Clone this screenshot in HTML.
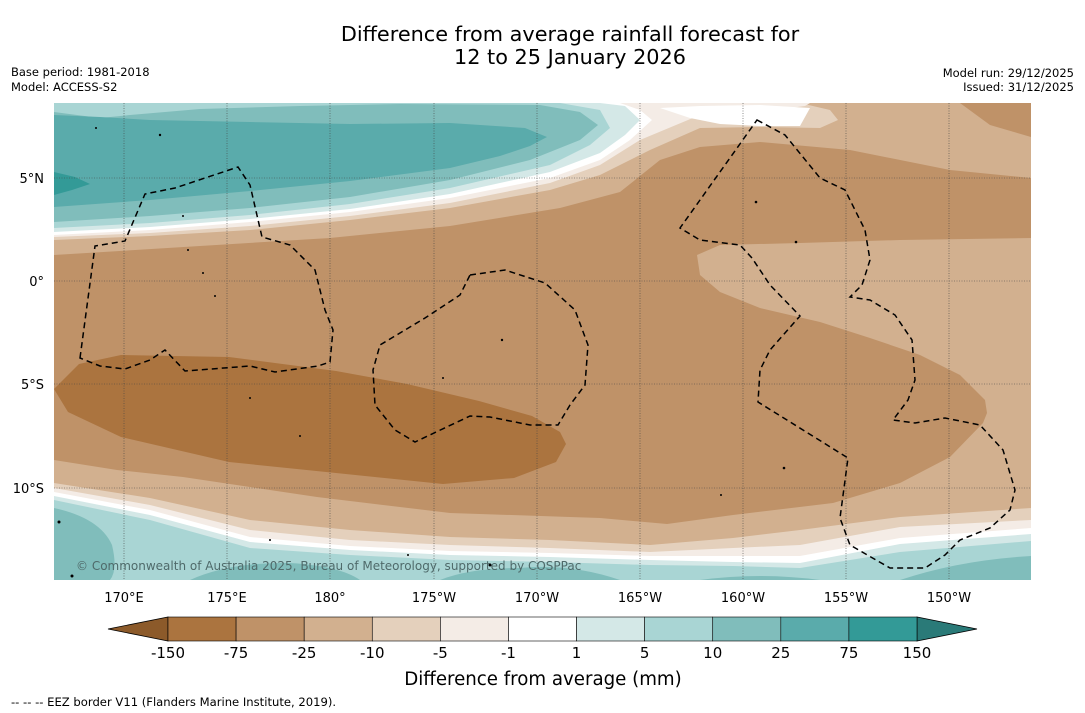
<!DOCTYPE html>
<html><head><meta charset="utf-8"><style>
body{margin:0;background:#fff;width:1085px;height:713px;overflow:hidden;font-family:"Liberation Sans","DejaVu Sans",sans-serif}
svg{display:block}
text{font-family:"DejaVu Sans","Liberation Sans",sans-serif}
</style></head><body>
<svg id="s" width="1085" height="713" viewBox="0 0 1085 713">
<text x="570" y="41" font-size="20.8" text-anchor="middle">Difference from average rainfall forecast for</text>
<text x="570" y="64" font-size="20.8" text-anchor="middle">12 to 25 January 2026</text>
<text x="11" y="76" font-size="11.5">Base period: 1981-2018</text>
<text x="11" y="91" font-size="11.5">Model: ACCESS-S2</text>
<text x="1074" y="77" font-size="11.5" text-anchor="end">Model run: 29/12/2025</text>
<text x="1074" y="91" font-size="11.5" text-anchor="end">Issued: 31/12/2025</text>
<defs><clipPath id="mc"><rect x="54" y="103" width="977" height="477"/></clipPath></defs>
<g clip-path="url(#mc)">
<rect x="54" y="103" width="977" height="477" fill="#d2b08f"/>
<polygon fill="#bf9268" points="54,255 200,246 330,238 450,226 560,208 620,192 660,160 700,147 760,142 850,150 950,170 1031,178 1031,238 900,240 800,243 720,245 697,255 700,275 720,292 760,308 820,322 870,338 920,355 960,375 985,400 987,413 983,423 950,457 900,483 833,503 733,515 667,524 600,518 570,517 450,513 317,497 183,477 117,470 54,460"/>
<polygon fill="#bf9268" points="960,103 1031,103 1031,137 990,125"/>
<polygon fill="#ab743f" points="54,389 79,364 121,355 229,357 336,371 407,384 479,401 532,416 560,432 566,444 556,462 514,478 443,484 336,473 229,462 121,437 68,412"/>
<polygon fill="#e4d0bc" points="54,483 150,498 250,520 350,530 450,537 550,540 650,545 733,538 800,530 900,517 1031,508 1031,580 54,580"/>
<polygon fill="#f4ece6" points="54,488 150,505 250,530 350,540 450,545 550,548 650,552 733,548 800,545 900,527 1031,520 1031,580 54,580"/>
<polygon fill="#ffffff" points="54,492 150,510 250,537 350,546 450,551 550,553 650,556 733,556 800,556 900,538 1031,528 1031,580 54,580"/>
<polygon fill="#d4e8e7" points="54,496 150,515 250,542 350,550 450,555 550,557 650,560 733,562 800,563 900,544 1031,534 1031,580 54,580"/>
<polygon fill="#a9d5d4" points="54,500 150,520 250,548 350,555 450,560 550,562 650,565 733,566 800,568 900,552 1031,541 1031,580 54,580"/>
<path fill="#80bdbb" d="M54,508 Q100,518 112,545 Q118,570 110,580 L54,580Z M190,580 Q230,562 290,563 Q340,566 360,580Z M440,580 Q470,568 520,568 Q570,563 620,580Z M700,580 Q760,572 820,580Z M900,580 Q960,560 1031,556 L1031,580Z"/>
<polygon fill="#e4d0bc" points="54,240 150,236 250,230 350,220 450,208 550,190 600,175 650,150 700,128 760,127 820,128 838,120 830,110 800,103 54,103"/>
<polygon fill="#f4ece6" points="54,237 150,233 250,226 350,216 450,203 550,183 600,165 640,140 700,115 760,112 805,106 810,103 54,103"/>
<polygon fill="#ffffff" points="660,108 700,106 760,105 810,108 800,126 760,126 720,124 690,118"/>
<polygon fill="#ffffff" points="54,235 150,230 250,222 350,212 450,198 550,178 600,160 630,140 652,120 640,110 620,103 54,103"/>
<polygon fill="#d4e8e7" points="54,232 150,227 250,219 350,209 450,194 550,172 600,153 625,135 640,120 625,106 600,103 54,103"/>
<polygon fill="#a9d5d4" points="54,228 150,223 250,215 350,204 450,188 550,165 590,145 610,128 600,110 560,103 54,103"/>
<polygon fill="#80bdbb" points="54,222 150,216 250,208 350,197 450,180 530,160 580,140 598,125 580,112 540,105 400,104 300,106 200,109 130,115 100,118 54,112"/>
<polygon fill="#5aabab" points="54,207 150,200 250,191 350,181 450,168 500,156 530,146 547,137 525,128 450,123 350,124 250,122 150,120 100,117 54,115"/>
<polygon fill="#339a97" points="54,172 75,177 90,184 72,190 54,195"/>
<g stroke="#444" stroke-width="0.6" stroke-dasharray="1,1.5">
<line x1="124" y1="103" x2="124" y2="580"/><line x1="227" y1="103" x2="227" y2="580"/><line x1="330" y1="103" x2="330" y2="580"/><line x1="434" y1="103" x2="434" y2="580"/><line x1="537" y1="103" x2="537" y2="580"/><line x1="640" y1="103" x2="640" y2="580"/><line x1="743" y1="103" x2="743" y2="580"/><line x1="846" y1="103" x2="846" y2="580"/><line x1="949" y1="103" x2="949" y2="580"/>
<line x1="54" y1="178" x2="1031" y2="178"/><line x1="54" y1="281" x2="1031" y2="281"/><line x1="54" y1="384" x2="1031" y2="384"/><line x1="54" y1="488" x2="1031" y2="488"/>
</g>
<g fill="none" stroke="#000" stroke-width="1.5" stroke-dasharray="6,4">
<polygon points="80,358 95,246 125,241 145,194 175,188 238,167 250,185 262,237 290,245 315,270 325,310 333,330 330,362 318,366 275,372 250,366 185,371 165,350 150,360 125,369 100,366"/>
<polygon points="470,275 505,270 545,283 575,310 588,345 585,385 570,405 558,425 530,425 490,417 470,416 415,442 395,430 375,405 373,370 380,345 425,318 460,295"/>
<polygon points="757,120 785,135 820,178 845,190 865,230 870,260 862,285 850,297 870,300 895,315 912,340 915,380 908,400 893,420 915,423 945,418 980,425 1003,450 1015,490 1010,510 990,528 960,540 945,555 925,568 890,568 850,545 840,518 848,458 758,402 760,370 770,350 800,316 770,285 752,258 740,245 700,240 680,228 700,200"/>
</g>
<g fill="#000">
<circle cx="96" cy="128" r="1"/><circle cx="160" cy="135" r="1.2"/><circle cx="183" cy="216" r="1"/><circle cx="188" cy="250" r="1"/><circle cx="203" cy="273" r="1"/><circle cx="215" cy="296" r="1"/><circle cx="250" cy="398" r="1"/><circle cx="300" cy="436" r="1"/><circle cx="502" cy="340" r="1.2"/><circle cx="443" cy="378" r="1"/><circle cx="756" cy="202" r="1.3"/><circle cx="796" cy="242" r="1.3"/><circle cx="784" cy="468" r="1.3"/><circle cx="721" cy="495" r="1"/><circle cx="59" cy="522" r="1.5"/><circle cx="72" cy="576" r="1.5"/><circle cx="270" cy="540" r="1"/><circle cx="408" cy="555" r="1"/><circle cx="490" cy="565" r="1.5"/>
</g>
<text x="76" y="570" font-size="12" fill="#4f6a6a">© Commonwealth of Australia 2025, Bureau of Meteorology, supported by COSPPac</text>
</g>
<g font-size="13" text-anchor="middle">
<text x="124" y="602">170°E</text><text x="227" y="602">175°E</text><text x="330" y="602">180°</text><text x="434" y="602">175°W</text><text x="537" y="602">170°W</text><text x="640" y="602">165°W</text><text x="743" y="602">160°W</text><text x="846" y="602">155°W</text><text x="949" y="602">150°W</text>
</g>
<g font-size="13" text-anchor="end">
<text x="44" y="183">5°N</text><text x="44" y="286">0°</text><text x="44" y="389">5°S</text><text x="44" y="493">10°S</text>
</g>
<g id="cbar"></g>
<text x="543" y="685" font-size="18.2" text-anchor="middle">Difference from average (mm)</text>
<text x="11" y="706" font-size="11.6">--  --  -- EEZ border V11 (Flanders Marine Institute, 2019).</text>
</svg>
<script>
const levelLabels = ["-150","-75","-25","-10","-5","-1","1","5","10","25","75","150"];
const binColors = ["#ab743f","#bf9268","#d2b08f","#e4d0bc","#f4ece6","#ffffff","#d4e8e7","#a9d5d4","#80bdbb","#5aabab","#339a97"];
const underColor = "#8c5a2a";
const overColor = "#2a7a78";
const NS = "http://www.w3.org/2000/svg";
const g = document.getElementById('cbar');
const x0 = 168, x1 = 917, y0 = 617, h = 24;
const w = (x1 - x0) / binColors.length;
function mk(tag, attrs){const e=document.createElementNS(NS,tag);for(const k in attrs)e.setAttribute(k,attrs[k]);g.appendChild(e);return e;}
let t1 = mk('polygon',{points:`${x0},${y0} ${x0},${y0+h} 108,${y0+h/2}`,fill:underColor,stroke:'#000','stroke-width':0.8});


let t2 = mk('polygon',{points:`${x1},${y0} ${x1},${y0+h} 977,${y0+h/2}`,fill:overColor,stroke:'#000','stroke-width':0.8});


binColors.forEach((c,i)=>{
  const r = mk('rect',{x:x0+i*w,y:y0,width:w,height:h,fill:c,stroke:'#000','stroke-width':0.6});
  
  
});
levelLabels.forEach((l,i)=>{
  const t = mk('text',{x:x0+i*w,y:658,'font-size':15,'text-anchor':'middle'});
  t.textContent = l;
  
  
});
</script>
</body></html>
